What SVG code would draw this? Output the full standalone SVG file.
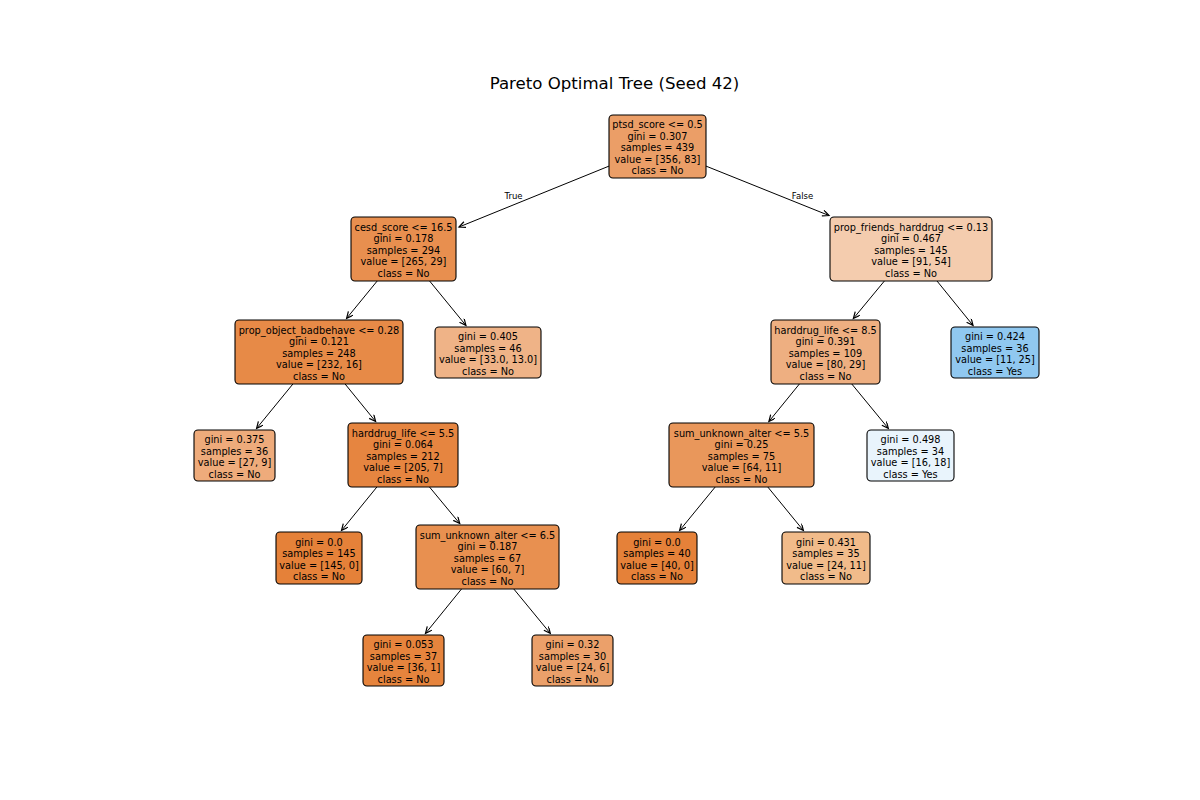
<svg xmlns="http://www.w3.org/2000/svg" width="1200" height="800" viewBox="0 0 1200 800">
<style>
text{font-family:"DejaVu Sans","Liberation Sans",sans-serif;fill:#000}
.t{font-size:9.75px;text-anchor:middle;transform:translate(0px,1.3px)}
.title{font-size:16.6px;text-anchor:middle}
.lbl{font-size:8.5px;text-anchor:middle}
rect{stroke:#000;stroke-width:1.1}
.e{stroke:#000;stroke-width:1;fill:none;marker-end:url(#ah)}
</style>
<defs>
<marker id="ah" markerUnits="userSpaceOnUse" markerWidth="10" markerHeight="10" refX="7" refY="3" orient="auto">
<path d="M0.5,0 L7,3 L0.5,6" fill="none" stroke="#000" stroke-width="1.2"/>
</marker>
</defs>
<rect x="0" y="0" width="1200" height="800" style="fill:#fff;stroke:none"/>
<text class="title" x="614.5" y="88.5">Pareto Optimal Tree (Seed 42)</text>
<g id="connectors">
<line class="e" x1="609" y1="166.1" x2="459" y2="227"/>
<line class="e" x1="706" y1="166.1" x2="829" y2="215.5"/>
<line class="e" x1="377.2" y1="281" x2="346.6" y2="318.4"/>
<line class="e" x1="429.6" y1="281" x2="465.9" y2="325.4"/>
<line class="e" x1="884.4" y1="281" x2="853.4" y2="318.5"/>
<line class="e" x1="937" y1="281" x2="973" y2="325.4"/>
<line class="e" x1="292.9" y1="384" x2="256.6" y2="428.4"/>
<line class="e" x1="345.1" y1="384" x2="375.6" y2="421.5"/>
<line class="e" x1="376.9" y1="487" x2="341.5" y2="530.5"/>
<line class="e" x1="429.5" y1="487" x2="459.7" y2="523.5"/>
<line class="e" x1="461.5" y1="589" x2="425.5" y2="633.4"/>
<line class="e" x1="513.8" y1="589" x2="550.3" y2="633.4"/>
<line class="e" x1="799.4" y1="384" x2="768.9" y2="421.5"/>
<line class="e" x1="851.8" y1="384" x2="888.3" y2="428.4"/>
<line class="e" x1="715.2" y1="487" x2="679.6" y2="530.5"/>
<line class="e" x1="767.8" y1="487" x2="803.4" y2="530.5"/>
<text class="lbl" x="513.5" y="198.5">True</text>
<text class="lbl" x="802.5" y="198.5">False</text>
</g>
<g id="n0"><rect x="609" y="115" width="97" height="63" rx="4" fill="#eb9e67"/>
<text class="t"><tspan x="657.5" y="127.1">ptsd_score &lt;= 0.5</tspan><tspan x="657.5" y="138.6">gini = 0.307</tspan><tspan x="657.5" y="150.1">samples = 439</tspan><tspan x="657.5" y="161.6">value = [356, 83]</tspan><tspan x="657.5" y="173.1">class = No</tspan></text></g>
<g id="n1"><rect x="351" y="217" width="105" height="64" rx="4" fill="#e88f4f"/>
<text class="t"><tspan x="403.5" y="229.6">cesd_score &lt;= 16.5</tspan><tspan x="403.5" y="241.1">gini = 0.178</tspan><tspan x="403.5" y="252.6">samples = 294</tspan><tspan x="403.5" y="264.1">value = [265, 29]</tspan><tspan x="403.5" y="275.6">class = No</tspan></text></g>
<g id="n2"><rect x="235" y="320" width="168" height="64" rx="4" fill="#e78a47"/>
<text class="t"><tspan x="319" y="332.6">prop_object_badbehave &lt;= 0.28</tspan><tspan x="319" y="344.1">gini = 0.121</tspan><tspan x="319" y="355.6">samples = 248</tspan><tspan x="319" y="367.1">value = [232, 16]</tspan><tspan x="319" y="378.6">class = No</tspan></text></g>
<g id="n3"><rect x="194" y="430" width="81" height="51" rx="4" fill="#eeab7b"/>
<text class="t"><tspan x="234.5" y="441.85">gini = 0.375</tspan><tspan x="234.5" y="453.35">samples = 36</tspan><tspan x="234.5" y="464.85">value = [27, 9]</tspan><tspan x="234.5" y="476.35">class = No</tspan></text></g>
<g id="n4"><rect x="348" y="423" width="110" height="64" rx="4" fill="#e68540"/>
<text class="t"><tspan x="403" y="435.6">harddrug_life &lt;= 5.5</tspan><tspan x="403" y="447.1">gini = 0.064</tspan><tspan x="403" y="458.6">samples = 212</tspan><tspan x="403" y="470.1">value = [205, 7]</tspan><tspan x="403" y="481.6">class = No</tspan></text></g>
<g id="n5"><rect x="276" y="532" width="86" height="52" rx="4" fill="#e58139"/>
<text class="t"><tspan x="319" y="544.35">gini = 0.0</tspan><tspan x="319" y="555.85">samples = 145</tspan><tspan x="319" y="567.35">value = [145, 0]</tspan><tspan x="319" y="578.85">class = No</tspan></text></g>
<g id="n6"><rect x="416" y="525" width="143" height="64" rx="4" fill="#e89050"/>
<text class="t"><tspan x="487.5" y="537.6">sum_unknown_alter &lt;= 6.5</tspan><tspan x="487.5" y="549.1">gini = 0.187</tspan><tspan x="487.5" y="560.6">samples = 67</tspan><tspan x="487.5" y="572.1">value = [60, 7]</tspan><tspan x="487.5" y="583.6">class = No</tspan></text></g>
<g id="n7"><rect x="363" y="635" width="81" height="51" rx="4" fill="#e6843d"/>
<text class="t"><tspan x="403.5" y="646.85">gini = 0.053</tspan><tspan x="403.5" y="658.35">samples = 37</tspan><tspan x="403.5" y="669.85">value = [36, 1]</tspan><tspan x="403.5" y="681.35">class = No</tspan></text></g>
<g id="n8"><rect x="532" y="635" width="81" height="51" rx="4" fill="#eba06a"/>
<text class="t"><tspan x="572.5" y="646.85">gini = 0.32</tspan><tspan x="572.5" y="658.35">samples = 30</tspan><tspan x="572.5" y="669.85">value = [24, 6]</tspan><tspan x="572.5" y="681.35">class = No</tspan></text></g>
<g id="n9"><rect x="435" y="327" width="106" height="51" rx="4" fill="#efb387"/>
<text class="t"><tspan x="488" y="338.85">gini = 0.405</tspan><tspan x="488" y="350.35">samples = 46</tspan><tspan x="488" y="361.85">value = [33.0, 13.0]</tspan><tspan x="488" y="373.35">class = No</tspan></text></g>
<g id="n10"><rect x="830" y="217" width="162" height="64" rx="4" fill="#f4ccae"/>
<text class="t"><tspan x="911" y="229.6">prop_friends_harddrug &lt;= 0.13</tspan><tspan x="911" y="241.1">gini = 0.467</tspan><tspan x="911" y="252.6">samples = 145</tspan><tspan x="911" y="264.1">value = [91, 54]</tspan><tspan x="911" y="275.6">class = No</tspan></text></g>
<g id="n11"><rect x="771" y="320" width="109" height="64" rx="4" fill="#eeaf81"/>
<text class="t"><tspan x="825.5" y="332.6">harddrug_life &lt;= 8.5</tspan><tspan x="825.5" y="344.1">gini = 0.391</tspan><tspan x="825.5" y="355.6">samples = 109</tspan><tspan x="825.5" y="367.1">value = [80, 29]</tspan><tspan x="825.5" y="378.6">class = No</tspan></text></g>
<g id="n12"><rect x="669" y="423" width="145" height="64" rx="4" fill="#e9975b"/>
<text class="t"><tspan x="741.5" y="435.6">sum_unknown_alter &lt;= 5.5</tspan><tspan x="741.5" y="447.1">gini = 0.25</tspan><tspan x="741.5" y="458.6">samples = 75</tspan><tspan x="741.5" y="470.1">value = [64, 11]</tspan><tspan x="741.5" y="481.6">class = No</tspan></text></g>
<g id="n13"><rect x="617" y="532" width="80" height="52" rx="4" fill="#e58139"/>
<text class="t"><tspan x="657" y="544.35">gini = 0.0</tspan><tspan x="657" y="555.85">samples = 40</tspan><tspan x="657" y="567.35">value = [40, 0]</tspan><tspan x="657" y="578.85">class = No</tspan></text></g>
<g id="n14"><rect x="782" y="532" width="88" height="52" rx="4" fill="#f1bb8a"/>
<text class="t"><tspan x="826" y="544.35">gini = 0.431</tspan><tspan x="826" y="555.85">samples = 35</tspan><tspan x="826" y="567.35">value = [24, 11]</tspan><tspan x="826" y="578.85">class = No</tspan></text></g>
<g id="n15"><rect x="867" y="430" width="87" height="51" rx="4" fill="#e9f4fc"/>
<text class="t"><tspan x="910.5" y="441.85">gini = 0.498</tspan><tspan x="910.5" y="453.35">samples = 34</tspan><tspan x="910.5" y="464.85">value = [16, 18]</tspan><tspan x="910.5" y="476.35">class = Yes</tspan></text></g>
<g id="n16"><rect x="951" y="327" width="88" height="51" rx="4" fill="#90c8f0"/>
<text class="t"><tspan x="995" y="338.85">gini = 0.424</tspan><tspan x="995" y="350.35">samples = 36</tspan><tspan x="995" y="361.85">value = [11, 25]</tspan><tspan x="995" y="373.35">class = Yes</tspan></text></g>
</svg>
